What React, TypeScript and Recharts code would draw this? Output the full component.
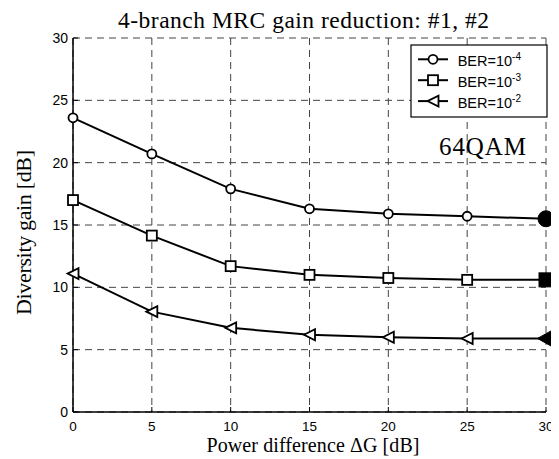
import { LineChart, Line, XAxis, YAxis, CartesianGrid } from "recharts";

const powerDiff = [0, 5, 10, 15, 20, 25, 30];
const ber4 = [23.6, 20.7, 17.9, 16.3, 15.9, 15.7, 15.5];
const ber3 = [17.0, 14.15, 11.7, 11.0, 10.75, 10.6, 10.6];
const ber2 = [11.1, 8.05, 6.75, 6.2, 6.0, 5.9, 5.9];
const axisTicks = [0, 5, 10, 15, 20, 25, 30];
const legendLabels = [
  { exp: "-4", kind: "circle" },
  { exp: "-3", kind: "square" },
  { exp: "-2", kind: "triangle" },
];

const data = powerDiff.map((x, i) => ({ x, a: ber4[i], b: ber3[i], c: ber2[i] }));

const SANS = "'Liberation Sans', Arial, sans-serif";
const SERIF = "'Liberation Serif', 'Times New Roman', serif";

// marker drawing, big = filled end point
const Marker = ({ kind, cx, cy, big }: { kind: string; cx: number; cy: number; big?: boolean }) => {
  const fill = big ? "#000" : "#fff";
  const sw = big ? 1 : 1.8;
  if (kind === "circle") {
    return <circle cx={cx} cy={cy} r={big ? 8 : 4.5} fill={fill} stroke="#000" strokeWidth={sw} />;
  }
  if (kind === "square") {
    const s = big ? 14 : 10;
    return <rect x={cx - s / 2} y={cy - s / 2} width={s} height={s} fill={fill} stroke="#000" strokeWidth={sw} />;
  }
  const w = big ? 8.5 : 5.5;
  const h = big ? 9.5 : 5.5;
  return (
    <polygon
      points={`${cx - w},${cy} ${cx + w},${cy - h} ${cx + w},${cy + h}`}
      fill={fill}
      stroke="#000"
      strokeWidth={sw}
    />
  );
};

const dotFor = (kind: string) => (props: any) => {
  const { cx, cy, index } = props;
  return (
    <g key={`${kind}-${index}`}>
      <Marker kind={kind} cx={cx} cy={cy} big={index === powerDiff.length - 1} />
    </g>
  );
};

const BottomTick = (props: any) => {
  const { x, y, payload } = props;
  return (
    <g>
      <line x1={x} y1={y} x2={x} y2={y - 5} stroke="#000" />
      <text x={x} y={y + 18.5} textAnchor="middle" fontFamily={SANS} fontSize={13.5} fill="#000">
        {payload.value}
      </text>
    </g>
  );
};

const LeftTick = (props: any) => {
  const { x, y, payload } = props;
  return (
    <g>
      <line x1={x} y1={y} x2={x + 5} y2={y} stroke="#000" />
      <text x={x - 5} y={y + 5} textAnchor="end" fontFamily={SANS} fontSize={14} fill="#000">
        {payload.value}
      </text>
    </g>
  );
};

const TopTick = (props: any) => (
  <line x1={props.x} y1={props.y} x2={props.x} y2={props.y + 5} stroke="#000" />
);

const RightTick = (props: any) => (
  <line x1={props.x} y1={props.y} x2={props.x - 5} y2={props.y} stroke="#000" />
);

const App = () => {
  return (
    <div style={{ position: "relative", width: 551, height: 451 }}>
      <LineChart width={551} height={451} data={data} margin={{ top: 30, right: 13, left: 0, bottom: 17 }}>
        <CartesianGrid stroke="#444" strokeDasharray="7 5" />
        <XAxis
          dataKey="x"
          type="number"
          domain={[0, 30]}
          ticks={axisTicks}
          height={30}
          tickSize={0}
          tickMargin={0}
          tick={<BottomTick />}
          axisLine={{ stroke: "#000", strokeWidth: 1.5 }}
          tickLine={false}
        />
        <XAxis
          xAxisId="top"
          orientation="top"
          dataKey="x"
          type="number"
          domain={[0, 30]}
          ticks={axisTicks}
          height={0}
          tickSize={0}
          tickMargin={0}
          tick={<TopTick />}
          axisLine={{ stroke: "#000", strokeWidth: 1.5 }}
          tickLine={false}
        />
        <YAxis
          type="number"
          domain={[0, 30]}
          ticks={axisTicks}
          width={65}
          tickSize={0}
          tickMargin={0}
          tick={<LeftTick />}
          axisLine={{ stroke: "#000", strokeWidth: 1.5 }}
          tickLine={false}
        />
        <YAxis
          yAxisId="right"
          orientation="right"
          type="number"
          domain={[0, 30]}
          ticks={axisTicks}
          width={0}
          tickSize={0}
          tickMargin={0}
          tick={<RightTick />}
          axisLine={{ stroke: "#000", strokeWidth: 1.5 }}
          tickLine={false}
        />
        <Line dataKey="a" stroke="#000" strokeWidth={2} dot={dotFor("circle")} activeDot={false} isAnimationActive={false} />
        <Line dataKey="b" stroke="#000" strokeWidth={2} dot={dotFor("square")} activeDot={false} isAnimationActive={false} />
        <Line dataKey="c" stroke="#000" strokeWidth={2} dot={dotFor("triangle")} activeDot={false} isAnimationActive={false} />
      </LineChart>

      <svg width={551} height={451} style={{ position: "absolute", left: 0, top: 0, pointerEvents: "none" }}>
        <text x={295.5} y={20.3} textAnchor="middle" fontFamily={SERIF} fontSize={23.5} textLength={371} lengthAdjust="spacing">
          4-branch MRC gain reduction: #1, #2
        </text>
        <text
          transform="translate(23,224.5) rotate(-90)"
          textAnchor="middle"
          fontFamily={SERIF}
          fontSize={22}
          textLength={165}
          lengthAdjust="spacing"
        >
          Diversity gain [dB]
        </text>
        <text x={305} y={444} textAnchor="middle" fontFamily={SERIF} fontSize={20} textLength={213} lengthAdjust="spacing">
          Power difference ΔG [dB]
        </text>
        <text x={431} y={147} fontFamily={SERIF} fontSize={25} textLength={87} lengthAdjust="spacing">
          64QAM
        </text>

        <rect x={403} y={37} width={136} height={72} fill="#fff" stroke="#000" strokeWidth={1.2} />
        {legendLabels.map((item, i) => {
          const cy = 51.3 + i * 20.9;
          return (
            <g key={item.exp}>
              <line x1={410} y1={cy} x2={440} y2={cy} stroke="#000" strokeWidth={2} />
              <Marker kind={item.kind} cx={425} cy={cy} />
              <text x={449.7} y={cy + 6.5} fontFamily={SANS} fontSize={14.5}>
                BER=10
                <tspan dy={-6} fontSize={10}>
                  {item.exp}
                </tspan>
              </text>
            </g>
          );
        })}
      </svg>
    </div>
  );
};

export default App;
